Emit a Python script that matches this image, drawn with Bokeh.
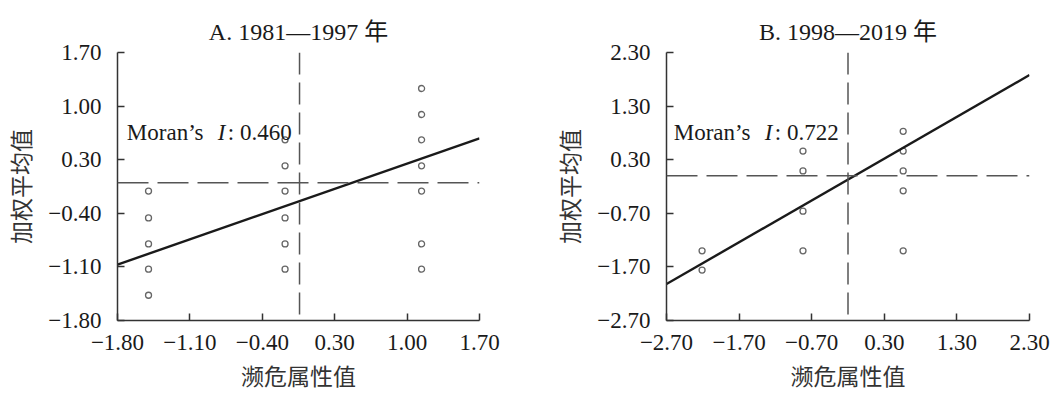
from bokeh.plotting import figure
from bokeh.layouts import row
from bokeh.models import Range1d, FixedTicker, CustomJSTickFormatter, Span, Label
from bokeh.embed import file_html
from bokeh.resources import INLINE

# ---- data: panel A (1981-1997) ----
a_title = "A. 1981\u20141997 \u5e74"
a_moran = "0.460"
a_ticks = [-1.80, -1.10, -0.40, 0.30, 1.00, 1.70]
a_x = [-1.50, -1.50, -1.50, -1.50, -1.50,
       -0.18, -0.18, -0.18, -0.18, -0.18, -0.18,
       1.14, 1.14, 1.14, 1.14, 1.14, 1.14, 1.14]
a_y = [-0.11, -0.46, -0.80, -1.13, -1.47,
       0.56, 0.22, -0.11, -0.46, -0.80, -1.13,
       1.23, 0.89, 0.56, 0.22, -0.11, -0.80, -1.13]
a_fit_x = [-1.80, 1.70]
a_fit_y = [-1.07, 0.58]
a_mean_x = -0.04
a_mean_y = 0.00

# ---- data: panel B (1998-2019) ----
b_title = "B. 1998\u20142019 \u5e74"
b_moran = "0.722"
b_ticks = [-2.70, -1.70, -0.70, 0.30, 1.30, 2.30]
b_x = [-2.21, -2.21,
       -0.82, -0.82, -0.82, -0.82,
       0.56, 0.56, 0.56, 0.56, 0.56]
b_y = [-1.40, -1.76,
       0.46, 0.09, -0.66, -1.40,
       0.83, 0.46, 0.09, -0.28, -1.40]
b_fit_x = [-2.70, 2.30]
b_fit_y = [-2.02, 1.88]
b_mean_x = -0.20
b_mean_y = 0.00

x_label = "\u6fd2\u5371\u5c5e\u6027\u503c"
y_label = "\u52a0\u6743\u5e73\u5747\u503c"

SERIF = "Liberation Serif"
MIXED = "Liberation Serif, Noto Sans CJK SC"
CJK = "Noto Sans CJK SC"
TXT = "#1a1a1a"
H = 394


def make_panel(title, ticks, xs, ys, fit_x, fit_y, mx, my, moran, lab_x, lab_y,
               width, border_left, border_right):
    p = figure(width=width, height=H, output_backend="svg", toolbar_location=None,
               x_range=Range1d(ticks[0], ticks[-1]), y_range=Range1d(ticks[0], ticks[-1]),
               min_border_left=border_left, min_border_right=border_right,
               min_border_top=52, min_border_bottom=H - 323)
    p.title.text = title
    p.title.align = "center"
    p.title.text_font = MIXED
    p.title.text_font_size = "24px"
    p.title.text_font_style = "normal"
    p.title.text_color = TXT
    p.title.standoff = 16
    p.outline_line_color = None
    p.xgrid.visible = False
    p.ygrid.visible = False
    fmt = CustomJSTickFormatter(code="return (tick < 0 ? '\u2212' : '') + Math.abs(tick).toFixed(2);")
    for ax in (p.xaxis[0], p.yaxis[0]):
        ax.ticker = FixedTicker(ticks=ticks)
        ax.formatter = fmt
        ax.axis_line_color = "#333333"
        ax.axis_line_width = 1.5
        ax.major_tick_line_color = "#333333"
        ax.major_tick_line_width = 1.5
        ax.major_tick_in = 7
        ax.major_tick_out = 0
        ax.minor_tick_line_color = None
        ax.major_label_text_font = SERIF
        ax.major_label_text_font_size = "23px"
        ax.major_label_text_color = TXT
        ax.axis_label_text_font = CJK
        ax.axis_label_text_font_size = "23px"
        ax.axis_label_text_font_style = "normal"
        ax.axis_label_text_color = "#333333"
    p.xaxis.major_label_standoff = 14
    p.yaxis.major_label_standoff = 16
    p.xaxis.axis_label = x_label
    p.xaxis.axis_label_standoff = 5
    p.yaxis.axis_label = y_label
    p.yaxis.axis_label_standoff = 8

    p.add_layout(Span(location=my, dimension="width", line_color="#555555",
                      line_width=1.5, line_dash="31 9"))
    p.add_layout(Span(location=mx, dimension="height", line_color="#555555",
                      line_width=1.5, line_dash="22 8"))
    p.scatter(xs, ys, marker="circle", size=6, fill_color=None,
              line_color="#666666", line_width=1.3)
    p.line(fit_x, fit_y, line_color="#1a1a1a", line_width=2.4)

    common = dict(x=lab_x, y=lab_y, text_font=SERIF, text_font_size="23px",
                  text_color=TXT, text_baseline="alphabetic", text_align="left")
    p.add_layout(Label(text="Moran\u2019s", **common))
    p.add_layout(Label(text="I", x_offset=91, text_font_style="italic", **common))
    p.add_layout(Label(text=": " + moran, x_offset=101, **common))
    return p


pa = make_panel(a_title, a_ticks, a_x, a_y, a_fit_x, a_fit_y, a_mean_x, a_mean_y,
                a_moran, -1.71, 0.65, 529, 117, 50)
pb = make_panel(b_title, b_ticks, b_x, b_y, b_fit_x, b_fit_y, b_mean_x, b_mean_y,
                b_moran, -2.60, 0.80, 528, 137, 28)

layout = row(pa, pb)
open("out.html", "w").write(file_html(layout, INLINE))
